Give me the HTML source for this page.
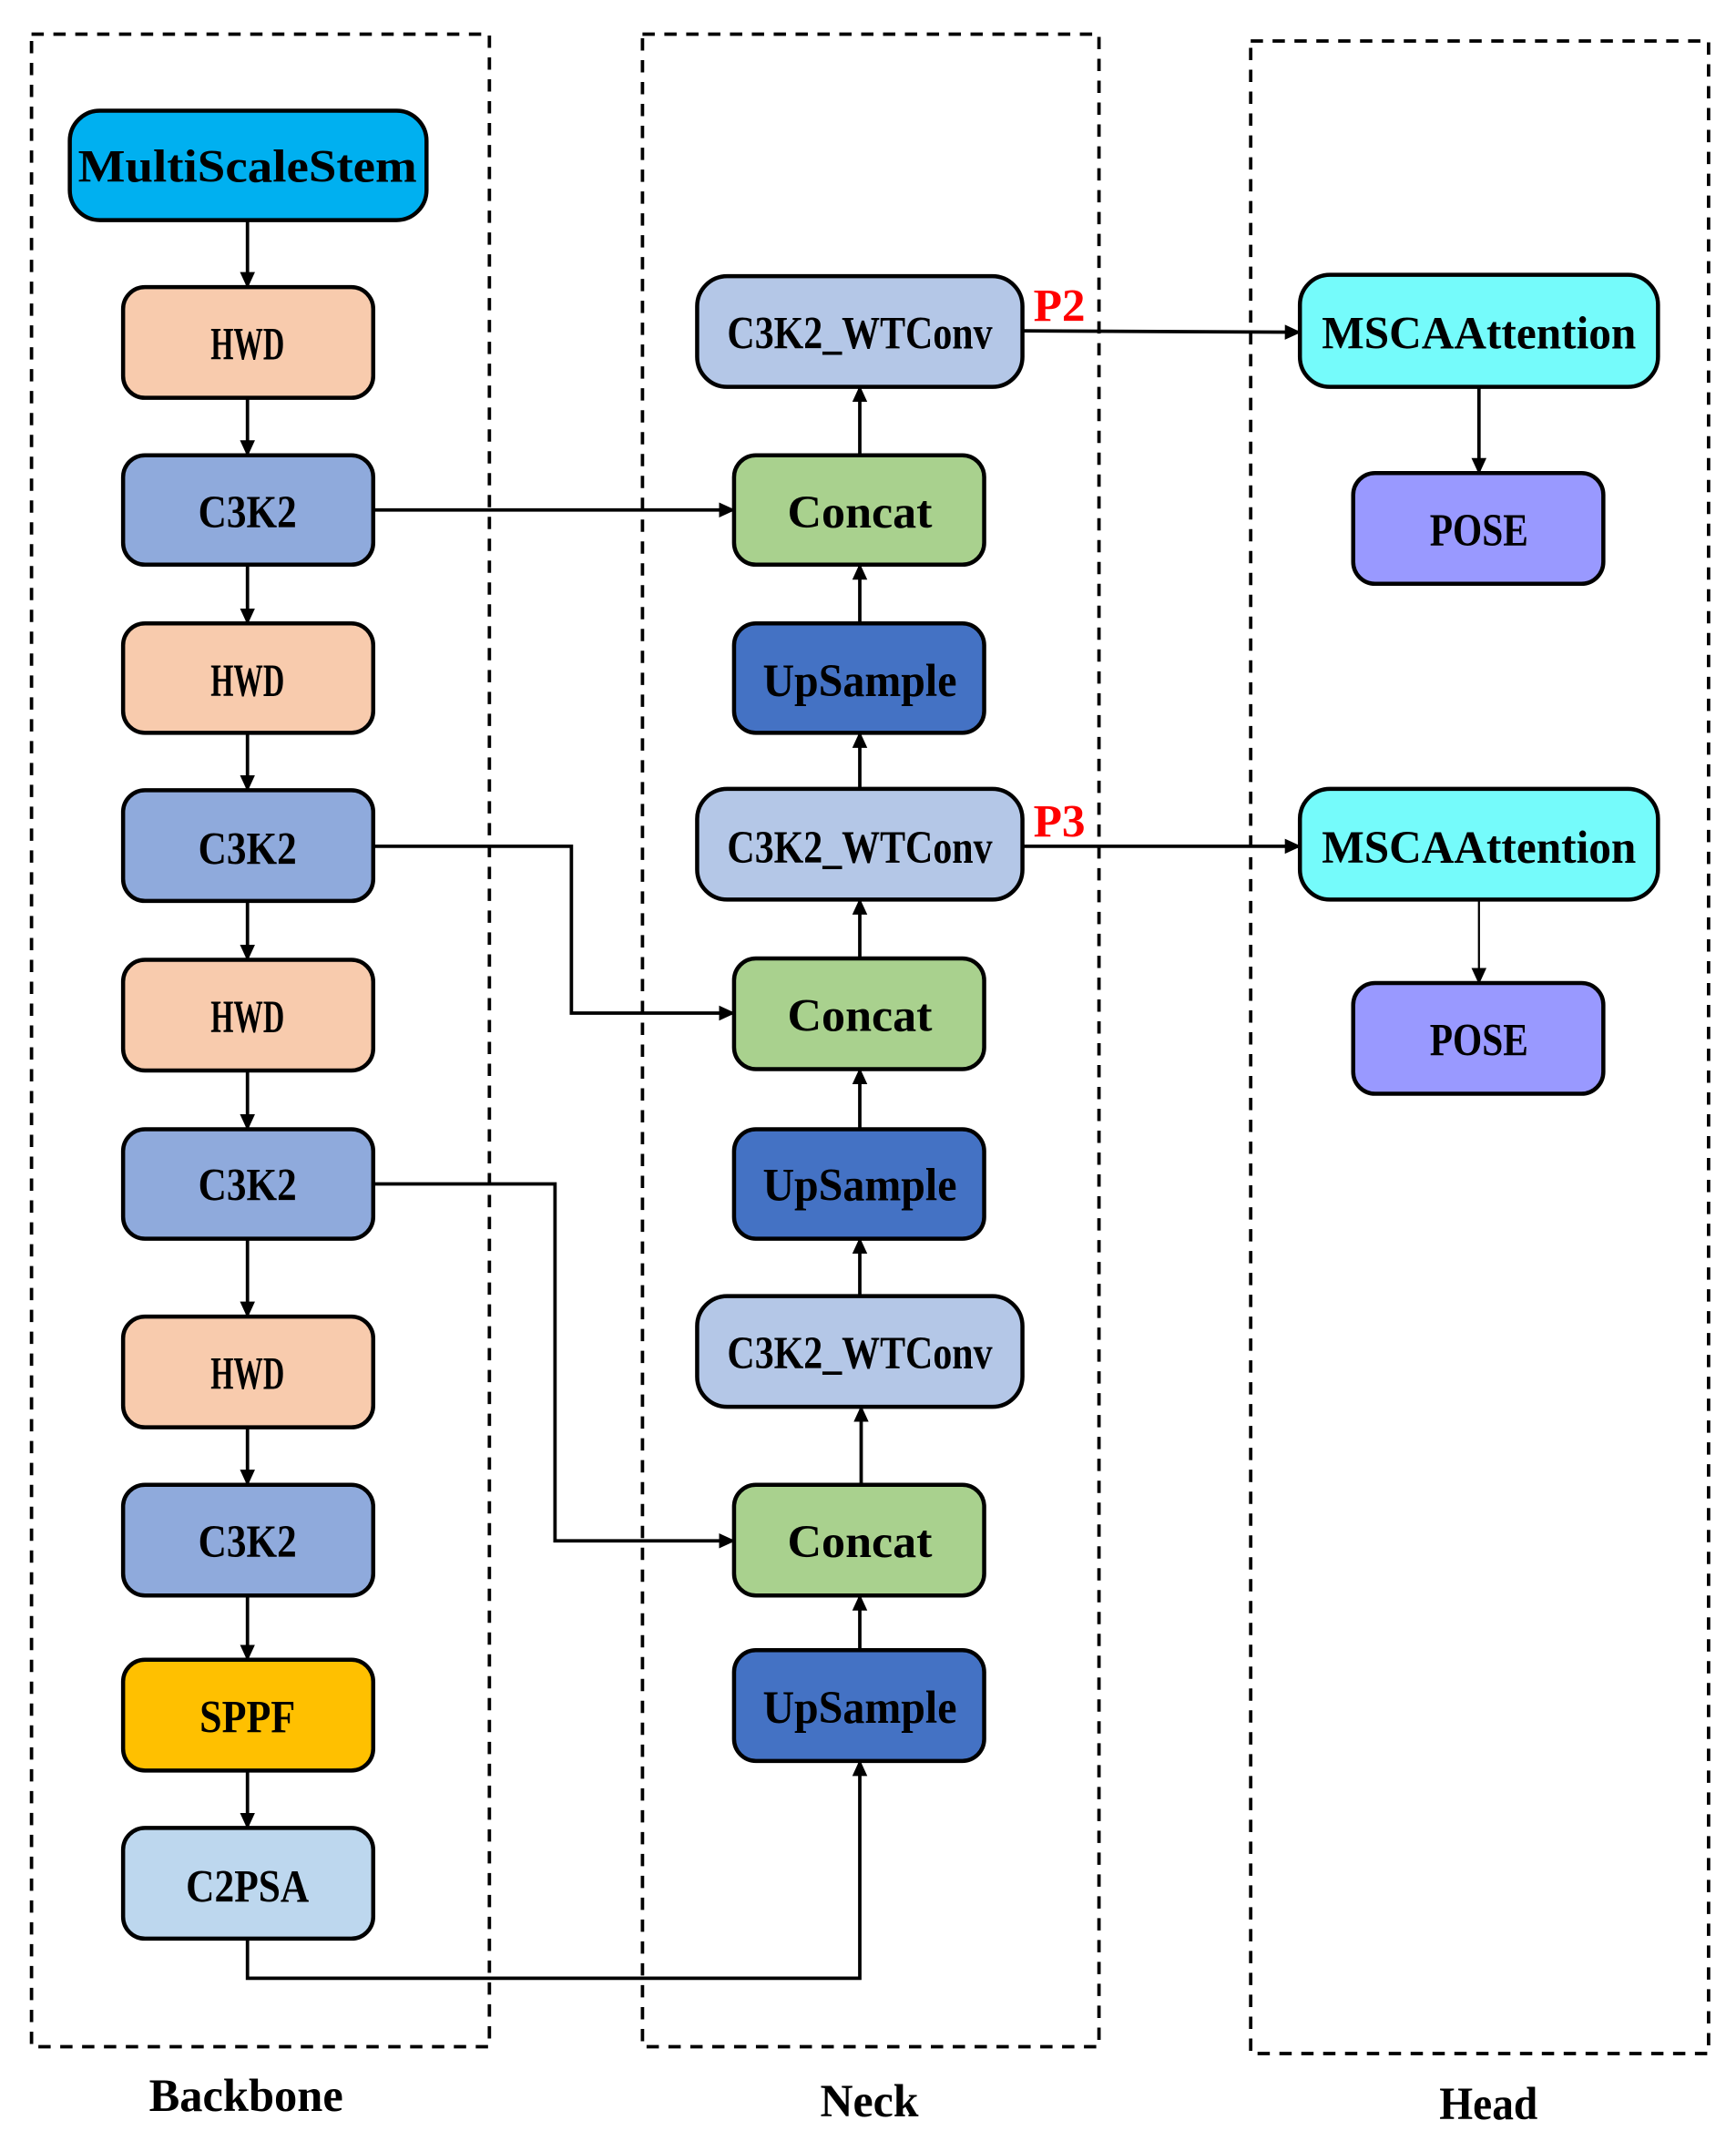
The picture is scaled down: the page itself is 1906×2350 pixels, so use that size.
<!DOCTYPE html>
<html><head><meta charset="utf-8"><style>html,body{margin:0;padding:0;background:#fff}svg{display:block}</style></head>
<body>
<svg width="1906" height="2350" viewBox="0 0 1270 1566" xmlns="http://www.w3.org/2000/svg">
<defs><marker id="a" markerWidth="12" markerHeight="12" refX="11" refY="6" orient="auto" markerUnits="userSpaceOnUse"><path d="M0,0.5 L12,6 L0,11.5 z" fill="#000"/></marker></defs>
<g fill="none" stroke="#000" stroke-width="2.5" stroke-dasharray="9,7">
<rect x="23" y="25" width="335" height="1472"/>
<rect x="470" y="25" width="334" height="1472"/>
<rect x="915" y="30" width="335" height="1472"/>
</g>
<g stroke="#000" stroke-width="3">
<rect x="51" y="81" width="261" height="80" rx="22" fill="#00B0F0"/>
<rect x="90" y="210" width="183" height="81" rx="16" fill="#F8CBAD"/>
<rect x="90" y="333" width="183" height="80" rx="16" fill="#8FAADC"/>
<rect x="90" y="456" width="183" height="80" rx="16" fill="#F8CBAD"/>
<rect x="90" y="578" width="183" height="81" rx="16" fill="#8FAADC"/>
<rect x="90" y="702" width="183" height="81" rx="16" fill="#F8CBAD"/>
<rect x="90" y="826" width="183" height="80" rx="16" fill="#8FAADC"/>
<rect x="90" y="963" width="183" height="81" rx="16" fill="#F8CBAD"/>
<rect x="90" y="1086" width="183" height="81" rx="16" fill="#8FAADC"/>
<rect x="90" y="1214" width="183" height="81" rx="16" fill="#FFC000"/>
<rect x="90" y="1337" width="183" height="81" rx="16" fill="#BDD7EE"/>
<rect x="510" y="202" width="238" height="81" rx="22" fill="#B4C7E7"/>
<rect x="537" y="333" width="183" height="80" rx="16" fill="#A9D18E"/>
<rect x="537" y="456" width="183" height="80" rx="16" fill="#4472C4"/>
<rect x="510" y="577" width="238" height="81" rx="22" fill="#B4C7E7"/>
<rect x="537" y="701" width="183" height="81" rx="16" fill="#A9D18E"/>
<rect x="537" y="826" width="183" height="80" rx="16" fill="#4472C4"/>
<rect x="510" y="948" width="238" height="81" rx="22" fill="#B4C7E7"/>
<rect x="537" y="1086" width="183" height="81" rx="16" fill="#A9D18E"/>
<rect x="537" y="1207" width="183" height="81" rx="16" fill="#4472C4"/>
<rect x="951" y="201" width="262" height="82" rx="22" fill="#75FBFB"/>
<rect x="990" y="346" width="183" height="81" rx="16" fill="#9999FF"/>
<rect x="951" y="577" width="262" height="81" rx="22" fill="#75FBFB"/>
<rect x="990" y="719" width="183" height="81" rx="16" fill="#9999FF"/>
</g>
<g stroke="#000" stroke-width="2.5" fill="none" marker-end="url(#a)">
<line x1="181" y1="161" x2="181" y2="210"/>
<line x1="181" y1="291" x2="181" y2="333"/>
<line x1="181" y1="413" x2="181" y2="456"/>
<line x1="181" y1="536" x2="181" y2="578"/>
<line x1="181" y1="659" x2="181" y2="702"/>
<line x1="181" y1="783" x2="181" y2="826"/>
<line x1="181" y1="906" x2="181" y2="963"/>
<line x1="181" y1="1044" x2="181" y2="1086"/>
<line x1="181" y1="1167" x2="181" y2="1214"/>
<line x1="181" y1="1295" x2="181" y2="1337"/>
<line x1="273" y1="373" x2="537" y2="373"/>
<polyline points="273,619 418,619 418,741 537,741"/>
<polyline points="273,866 406,866 406,1127 537,1127"/>
<polyline points="181,1418 181,1447 629,1447 629,1288"/>
<line x1="629" y1="1207" x2="629" y2="1167"/>
<line x1="630" y1="1086" x2="630" y2="1029"/>
<line x1="629" y1="948" x2="629" y2="906"/>
<line x1="629" y1="826" x2="629" y2="782"/>
<line x1="629" y1="701" x2="629" y2="658"/>
<line x1="629" y1="577" x2="629" y2="536"/>
<line x1="629" y1="456" x2="629" y2="413"/>
<line x1="629" y1="333" x2="629" y2="283"/>
<line x1="748" y1="242" x2="951" y2="243"/>
<line x1="748" y1="619" x2="951" y2="619"/>
<line x1="1082" y1="283" x2="1082" y2="346"/>
<line x1="1082" y1="658" x2="1082" y2="719" stroke-width="1.5"/>
</g>
<g font-family="Liberation Serif, serif" font-weight="bold" font-size="34" text-anchor="middle" fill="#000">
<text x="181" y="133" textLength="248" lengthAdjust="spacingAndGlyphs">MultiScaleStem</text>
<text x="181" y="263" textLength="54" lengthAdjust="spacingAndGlyphs">HWD</text>
<text x="181" y="386" textLength="72" lengthAdjust="spacingAndGlyphs">C3K2</text>
<text x="181" y="509" textLength="54" lengthAdjust="spacingAndGlyphs">HWD</text>
<text x="181" y="632" textLength="72" lengthAdjust="spacingAndGlyphs">C3K2</text>
<text x="181" y="755" textLength="54" lengthAdjust="spacingAndGlyphs">HWD</text>
<text x="181" y="878" textLength="72" lengthAdjust="spacingAndGlyphs">C3K2</text>
<text x="181" y="1016" textLength="54" lengthAdjust="spacingAndGlyphs">HWD</text>
<text x="181" y="1139" textLength="72" lengthAdjust="spacingAndGlyphs">C3K2</text>
<text x="181" y="1267" textLength="70" lengthAdjust="spacingAndGlyphs">SPPF</text>
<text x="181" y="1391" textLength="90" lengthAdjust="spacingAndGlyphs">C2PSA</text>
<text x="629" y="255" textLength="194" lengthAdjust="spacingAndGlyphs">C3K2_WTConv</text>
<text x="629" y="386" textLength="106" lengthAdjust="spacingAndGlyphs">Concat</text>
<text x="629" y="509" textLength="142" lengthAdjust="spacingAndGlyphs">UpSample</text>
<text x="629" y="631" textLength="194" lengthAdjust="spacingAndGlyphs">C3K2_WTConv</text>
<text x="629" y="754" textLength="106" lengthAdjust="spacingAndGlyphs">Concat</text>
<text x="629" y="878" textLength="142" lengthAdjust="spacingAndGlyphs">UpSample</text>
<text x="629" y="1001" textLength="194" lengthAdjust="spacingAndGlyphs">C3K2_WTConv</text>
<text x="629" y="1139" textLength="106" lengthAdjust="spacingAndGlyphs">Concat</text>
<text x="629" y="1260" textLength="142" lengthAdjust="spacingAndGlyphs">UpSample</text>
<text x="1082" y="255" textLength="230" lengthAdjust="spacingAndGlyphs">MSCAAttention</text>
<text x="1082" y="399" textLength="72" lengthAdjust="spacingAndGlyphs">POSE</text>
<text x="1082" y="631" textLength="230" lengthAdjust="spacingAndGlyphs">MSCAAttention</text>
<text x="1082" y="772" textLength="72" lengthAdjust="spacingAndGlyphs">POSE</text>
<text x="180" y="1544" textLength="142" lengthAdjust="spacingAndGlyphs">Backbone</text>
<text x="636" y="1548" textLength="72" lengthAdjust="spacingAndGlyphs">Neck</text>
<text x="1089" y="1550" textLength="72" lengthAdjust="spacingAndGlyphs">Head</text>
<text x="775" y="235" fill="#FF0000" textLength="38" lengthAdjust="spacingAndGlyphs">P2</text>
<text x="775" y="612" fill="#FF0000" textLength="38" lengthAdjust="spacingAndGlyphs">P3</text>
</g>
</svg>
</body></html>
